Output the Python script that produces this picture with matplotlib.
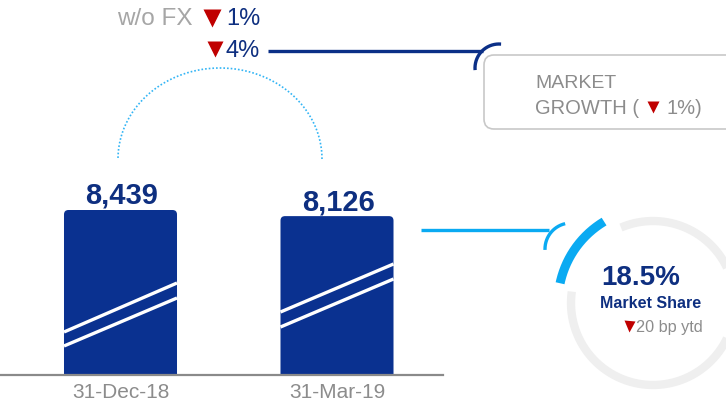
import numpy as np
import matplotlib
matplotlib.use("Agg")
import matplotlib.pyplot as plt
from matplotlib.patches import FancyBboxPatch
from matplotlib.transforms import offset_copy

plt.rcParams['font.family'] = ['Liberation Sans', 'DejaVu Sans']

# Data
categories = ["31-Dec-18", "31-Mar-19"]
values = [8439, 8126]
value_labels = ["8,439", "8,126"]
change_total = "4%"
change_wo_fx = "1%"
market_growth = "1%"
market_share = "18.5%"
share_change = "20 bp ytd"

NAVY = "#0A3190"
NAVY_TXT = "#0E2F80"
GRAY_TXT = "#8C8C8C"
LIGHT_GRAY_TXT = "#A6A6A6"
RED = "#C00000"
CYAN = "#0AAAF2"

W, H = 726, 406
fig = plt.figure(figsize=(W / 100, H / 100), dpi=100)

# Bar axes: baseline 30 px above the bottom edge
base_px = 30
ax = fig.add_axes([0, base_px / H, 1, (H - base_px) / H])
px_per_unit = 216.5
centre0 = 120.5
ax.set_xlim(-centre0 / px_per_unit, (W - centre0) / px_per_unit)
ytop = values[0] * (H - base_px) / 165.0
ax.set_ylim(0, ytop)
for s in ax.spines.values():
    s.set_visible(False)
ax.set_yticks([])
ax.set_facecolor("none")

x = np.arange(len(categories))
width = 0.522
y_per_px = ytop / (H - base_px)
aspect = px_per_unit * y_per_px
for xi, v in zip(x, values):
    p = FancyBboxPatch((xi - width / 2, -50 * y_per_px), width, v + 50 * y_per_px,
                       boxstyle=f"round,pad=0,rounding_size={4.5 / px_per_unit}",
                       mutation_aspect=aspect, facecolor=NAVY, edgecolor="none", zorder=2)
    ax.add_patch(p)

# Axis-break stripes across each bar (heights in px above the baseline)
breaks = [((43, 92), (29, 77)), ((63, 111), (48, 96))]
for xi, pair in zip(x, breaks):
    for (hl, hr) in pair:
        ax.plot([xi - width / 2, xi + width / 2], [hl * y_per_px, hr * y_per_px],
                color="white", lw=2.4, solid_capstyle="butt", zorder=3)

# Value labels above bars
lab_tr = offset_copy(ax.transData, fig=fig, x=1.5, y=7, units="dots")
for xi, v, lab in zip(x, values, value_labels):
    ax.text(xi, v, lab, transform=lab_tr, ha="center", va="baseline",
            fontsize=21, fontweight="bold", color=NAVY_TXT, zorder=4)

ax.set_xticks(x)
ax.set_xticklabels(categories, fontsize=15, color=GRAY_TXT)
ax.tick_params(axis="x", length=0, pad=5)

# Overlay in pixel coordinates for annotations
ov = fig.add_axes([0, 0, 1, 1])
ov.set_xlim(0, W)
ov.set_ylim(H, 0)
ov.axis("off")
ov.set_facecolor("none")

# baseline
ov.plot([0, 443], [376, 376], color="#8A8A8A", lw=1.6, zorder=5)

def arc(cx, cy, rx, ry, t0, t1, **kw):
    t = np.radians(np.linspace(t0, t1, 200))
    ov.plot(cx + rx * np.cos(t), cy - ry * np.sin(t), **kw)

def down_tri(cx, cy, size_px):
    ov.plot([cx], [cy], marker="v", ms=size_px * 0.72, color=RED, mec="none", ls="none")

# dotted connector between bars
arc(220, 160, 102, 91, 0, 180, color="#33B5F5", lw=1.2, ls=(0, (1, 1.2)))

# change labels
ov.text(193, 19, "w/o FX", ha="right", va="center", fontsize=17.5, color=LIGHT_GRAY_TXT)
down_tri(212, 19, 18)
ov.text(226, 19, change_wo_fx, ha="left", va="center", fontsize=17, color=NAVY_TXT)
down_tri(215, 50, 15.5)
ov.text(226, 51, change_total, ha="left", va="center", fontsize=17, color=NAVY_TXT)

# navy connector to market growth box
ov.plot([268, 483], [52, 52], color="#0B2F87", lw=2.4, solid_capstyle="butt")
arc(499, 69, 24, 24, 85, 185, color="#0B2F87", lw=2.4, solid_capstyle="butt")

box = FancyBboxPatch((484, 56), 270, 74, boxstyle="round,pad=0,rounding_size=10",
                     facecolor="white", edgecolor="#C8C8C8", lw=1.2)
ov.add_patch(box)
ov.text(535, 83, "MARKET", ha="left", va="center", fontsize=14, color=GRAY_TXT)
ov.text(535, 108, "GROWTH (", ha="left", va="center", fontsize=14.5, color=GRAY_TXT)
down_tri(653, 108, 12)
ov.text(666, 108, market_growth + ")", ha="left", va="center", fontsize=14.5, color=GRAY_TXT)

# cyan connector to market share gauge
ov.plot([421, 549], [231, 231], color=CYAN, lw=2.4, solid_capstyle="butt")
arc(571, 250, 26, 26, 103, 182, color=CYAN, lw=2.4, solid_capstyle="butt")

# gauge ring
arc(653, 304, 82, 82, 172, 473, color="#EFEFEF", lw=6, solid_capstyle="butt")
arc(653, 304, 95, 95, 121, 168, color=CYAN, lw=6.5, solid_capstyle="butt")

ov.text(641, 278, market_share, ha="center", va="center", fontsize=20,
        fontweight="bold", color=NAVY_TXT)
ov.text(651, 304, "Market Share", ha="center", va="center", fontsize=11.5,
        fontweight="bold", color=NAVY_TXT)
down_tri(629, 327, 11)
ov.text(636, 328, share_change, ha="left", va="center", fontsize=11.7, color=GRAY_TXT)

fig.savefig("out.png", dpi=100)
